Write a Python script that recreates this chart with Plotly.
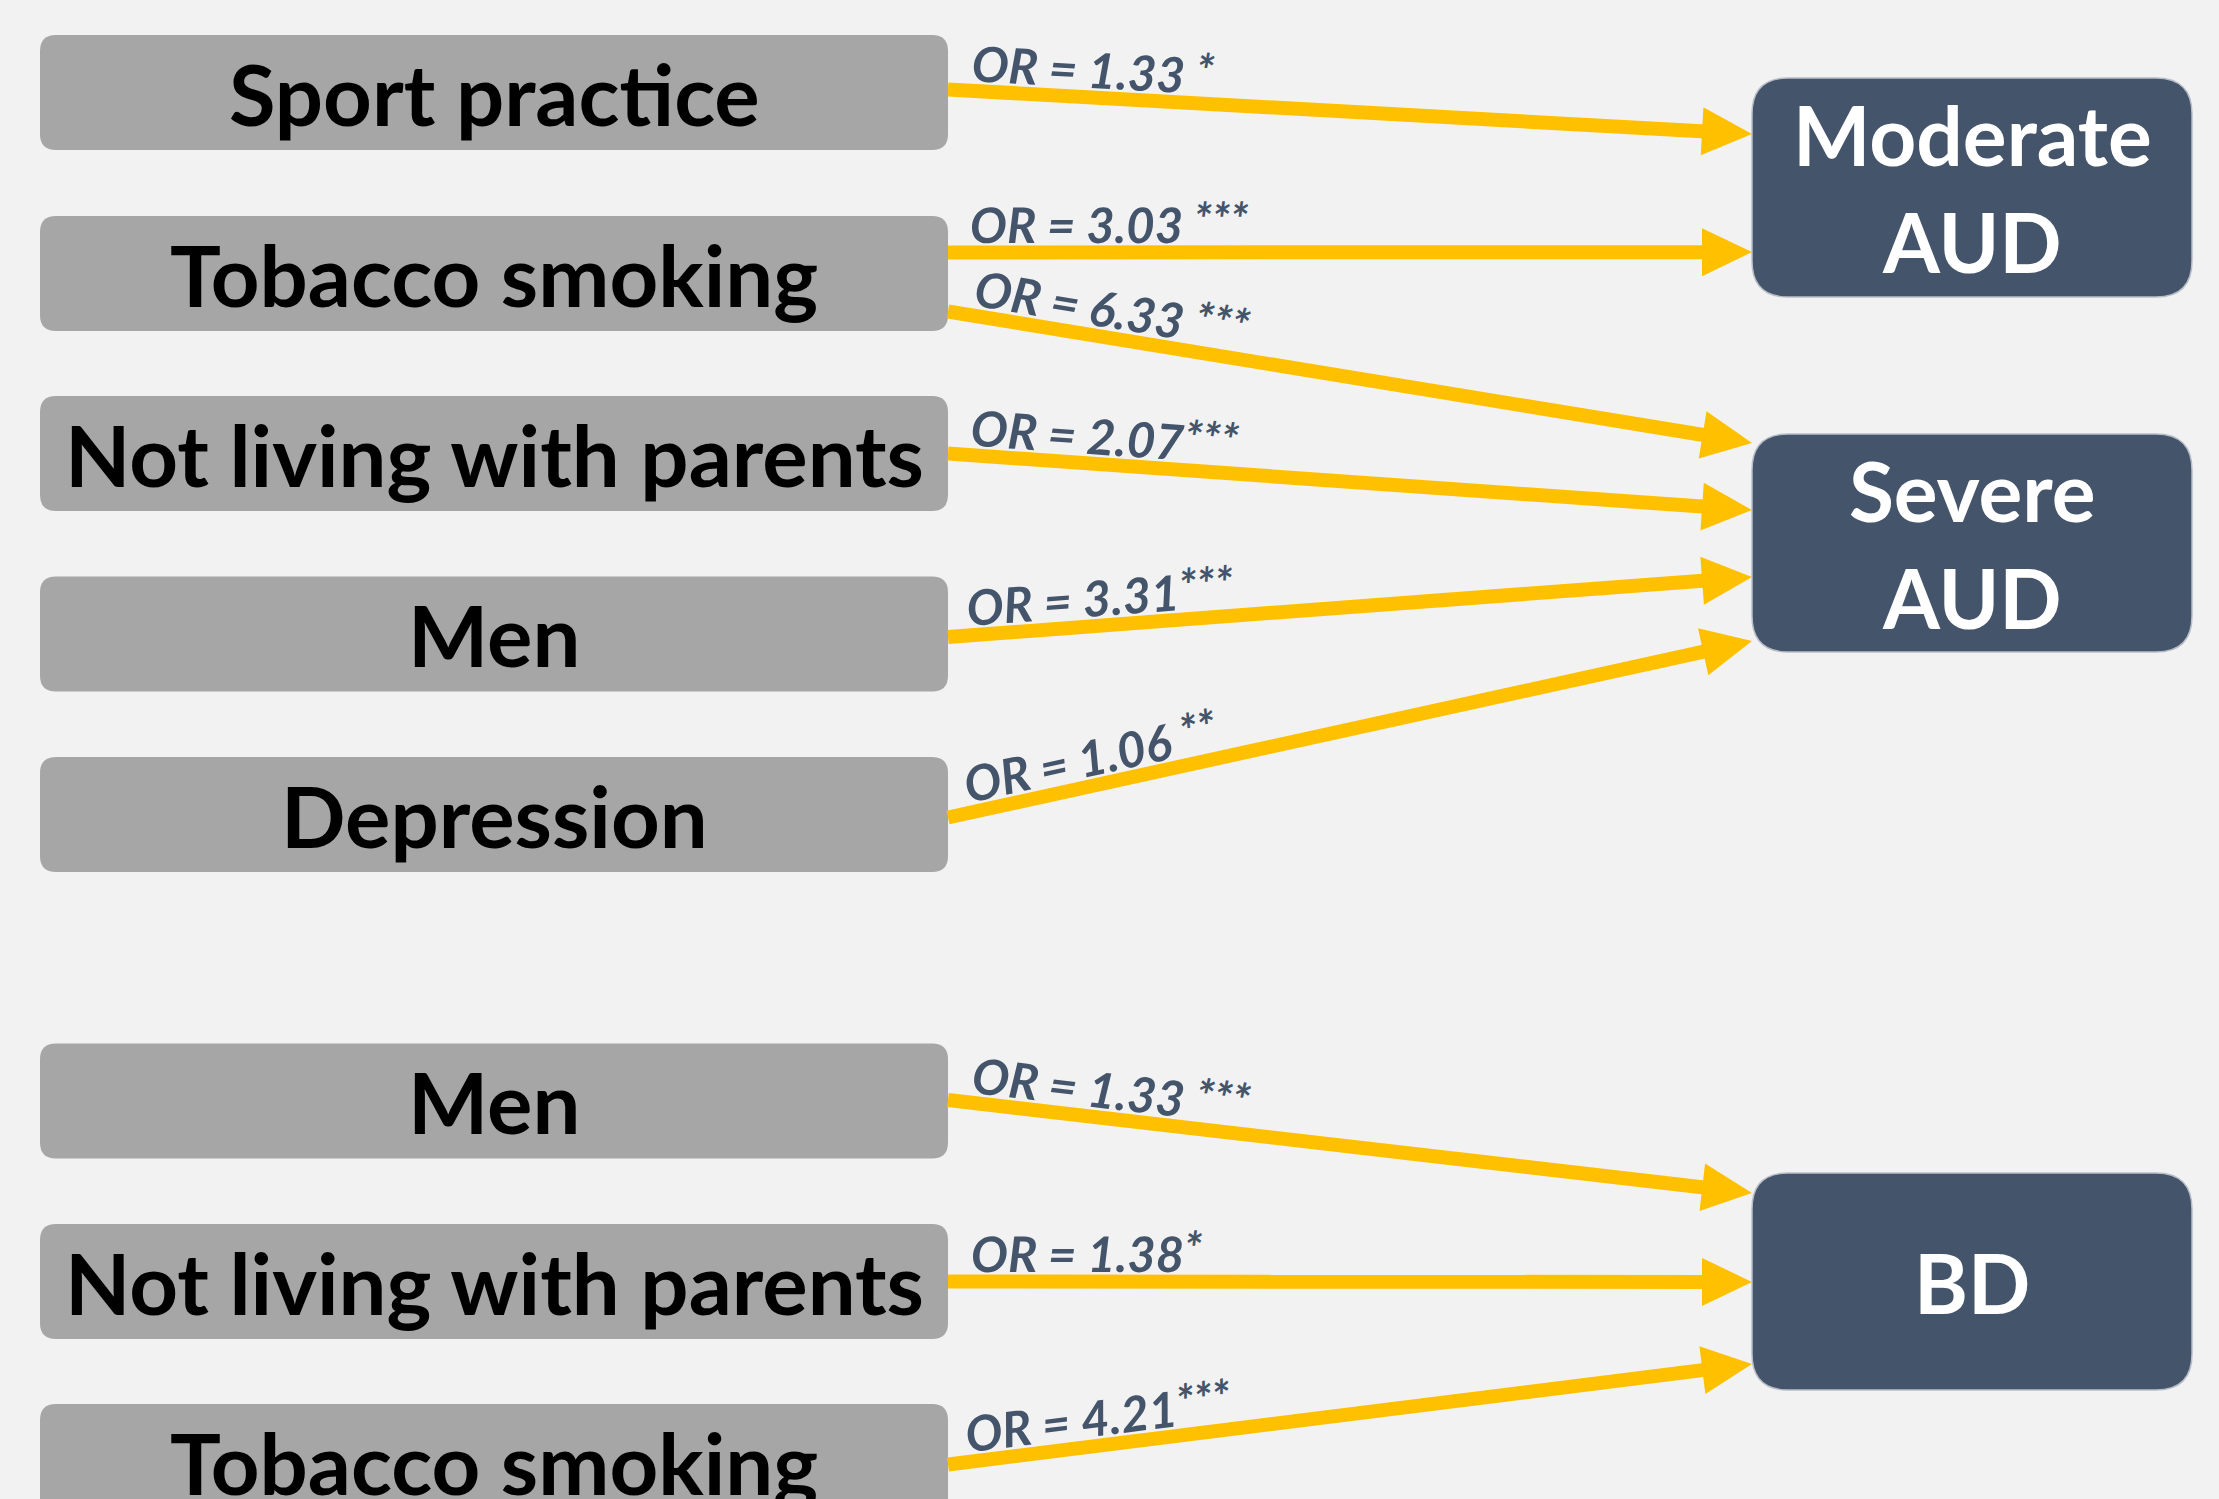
import math
import plotly.graph_objects as go

# ---------------- data ----------------
sources = ["Sport practice", "Tobacco smoking", "Not living with parents", "Men", "Depression",
           "Men", "Not living with parents", "Tobacco smoking"]
targets = ["Moderate<br>AUD", "Severe<br>AUD", "BD"]

edge_src = [0, 1, 1, 2, 3, 4, 5, 6, 7]
edge_tgt = [0, 0, 1, 1, 1, 1, 2, 2, 2]
edge_or = ["1.33", "3.03", "6.33", "2.07", "3.31", "1.06", "1.33", "1.38", "4.21"]
edge_sig = ["*", "***", "***", "***", "***", "**", "***", "*", "***"]
edge_gap = [True, True, True, False, False, True, True, False, False]

# ---------------- layout constants ----------------
W, H = 2219, 1499
BG = "#F2F2F2"
GREY = "#A6A6A6"
NAVY = "#44546A"
GOLD = "#FFC000"

LX0, LX1, LH, LR = 40, 948, 115, 16
src_cy = [92.5, 273.5, 453.5, 634, 814.5, 1101, 1281.5, 1461.5]
RX0, RX1, RR = 1752, 2192, 36
tgt_y = [(78, 297), (434, 652), (1173, 1390)]

# where each arrow leaves the source (offset from centre) and lands on target (fraction of height)
start_off = [-3, -21, 38, 0, 3, 3, -1, 0, 3]
end_frac = [0.256, 0.795, 0.041, 0.349, 0.656, 0.95, 0.092, 0.502, 0.88]

LINE_W = 14
HEAD_L, HEAD_HW = 50, 24
LABEL_SIZE = 49
STAR_SIZE = 46
LABEL_OFF = 30.5


def rrect(x0, y0, x1, y1, r):
    return (f"M{x0+r},{y0} L{x1-r},{y0} Q{x1},{y0} {x1},{y0+r} L{x1},{y1-r} "
            f"Q{x1},{y1} {x1-r},{y1} L{x0+r},{y1} Q{x0},{y1} {x0},{y1-r} "
            f"L{x0},{y0+r} Q{x0},{y0} {x0+r},{y0} Z")


fig = go.Figure()
fig.add_trace(go.Scatter(x=[0, W], y=[0, H], mode="markers", marker=dict(opacity=0),
                         hoverinfo="skip", showlegend=False))

shapes = []
annotations = []

# source boxes
for name, cy in zip(sources, src_cy):
    shapes.append(dict(type="path", path=rrect(LX0, cy - LH / 2, LX1, cy + LH / 2, LR),
                       fillcolor=GREY, line=dict(width=0), layer="below"))
    annotations.append(dict(x=(LX0 + LX1) / 2, y=cy, text=f"<b>{name}</b>", showarrow=False,
                            font=dict(family="Lato", size=85, color="black"),
                            xanchor="center", yanchor="middle"))

# target boxes
for name, (y0, y1) in zip(targets, tgt_y):
    shapes.append(dict(type="path", path=rrect(RX0, y0, RX1, y1, RR),
                       fillcolor=NAVY, line=dict(width=1.5, color="#B8BEC8"), layer="below"))
    annotations.append(dict(x=(RX0 + RX1) / 2, y=(y0 + y1) / 2, text=f"<b>{name}</b>", showarrow=False,
                            font=dict(family="Lato", size=82, color="white"),
                            xanchor="center", yanchor="middle"))

# arrows + labels
for s, t, v, sig, gap, so, ef in zip(edge_src, edge_tgt, edge_or, edge_sig, edge_gap, start_off, end_frac):
    xs, ys = LX1, src_cy[s] + so
    ty0, ty1 = tgt_y[t]
    xe, ye = RX0, ty0 + ef * (ty1 - ty0)
    dx, dy = xe - xs, ye - ys
    L = math.hypot(dx, dy)
    ux, uy = dx / L, dy / L
    nx, ny = uy, -ux  # normal pointing upward on screen
    bx, by = xe - HEAD_L * ux, ye - HEAD_L * uy
    shapes.append(dict(type="line", x0=xs, y0=ys, x1=bx + 4 * ux, y1=by + 4 * uy,
                       line=dict(color=GOLD, width=LINE_W)))
    shapes.append(dict(type="path",
                       path=f"M{xe},{ye} L{bx + HEAD_HW * nx},{by + HEAD_HW * ny} "
                            f"L{bx - HEAD_HW * nx},{by - HEAD_HW * ny} Z",
                       fillcolor=GOLD, line=dict(width=0)))
    w = 209 + (12 if gap else 0) + 17 * len(sig)
    d = 25 + w / 2
    cx = xs + d * ux + LABEL_OFF * nx
    cy = ys + d * uy + LABEL_OFF * ny
    ang = math.degrees(math.atan2(dy, dx))
    txt = (f"<b><i>OR = {v}{' ' if gap else ''}"
           f"<span style='font-size:{STAR_SIZE}px;baseline-shift:7px'>{sig}</span></i></b>")
    annotations.append(dict(x=cx, y=cy, text=txt, showarrow=False, textangle=ang,
                            font=dict(family="Lato", size=LABEL_SIZE, color=NAVY),
                            xanchor="center", yanchor="middle"))

fig.update_layout(
    width=W, height=H, margin=dict(l=0, r=0, t=0, b=0),
    paper_bgcolor=BG, plot_bgcolor=BG,
    xaxis=dict(range=[0, W], visible=False, fixedrange=True),
    yaxis=dict(range=[H, 0], visible=False, fixedrange=True),
    shapes=shapes, annotations=annotations, showlegend=False,
)

fig.write_html("out.html", config={"displayModeBar": False},
               post_script="document.body.style.margin='0';document.body.style.overflow='hidden';")
